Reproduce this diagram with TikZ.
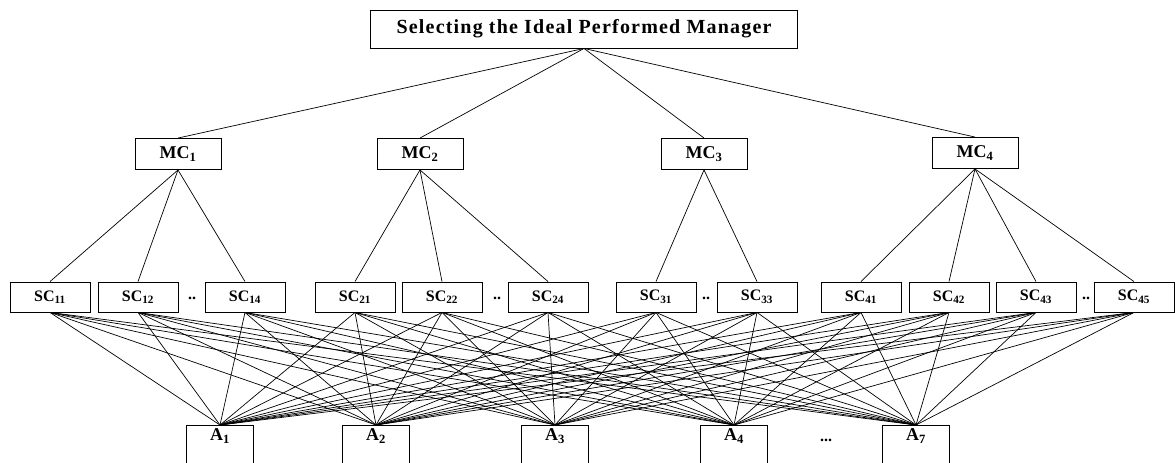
\documentclass[tikz,border=0pt]{standalone}
\usepackage{fontspec}
\setmainfont{Liberation Serif}
\usetikzlibrary{positioning}
\tikzset{%
    % Specifications for style of nodes:
    base/.style = {
        rectangle, draw=black, line width=0.9pt,
        fill=white, inner sep=0pt, align=center
    },
    goal/.style = {base, minimum width=427pt, minimum height=38pt,
        font=\fontsize{20}{22}\selectfont\bfseries\addfontfeature{LetterSpace=6}},
    main/.style = {base, minimum width=86pt, minimum height=31pt,
        font=\fontsize{18}{20}\selectfont\bfseries},
    sub/.style = {base, minimum width=80pt, minimum height=30pt,
        font=\fontsize{16}{18}\selectfont\bfseries},
    alt/.style = {base, minimum width=67pt, text height=13pt, text depth=32pt,
        inner ysep=2pt, font=\fontsize{18}{20}\selectfont\bfseries},
    gap/.style = {font=\fontsize{16}{18}\selectfont\bfseries},
    link/.style = {line width=0.7pt}
}

\begin{document}
\begin{tikzpicture}[x=1pt, y=-1pt]
\clip (0,0) rectangle (1175,463);
% Specification of nodes (position, etc.)
\node (goal)  [goal] at (584,29) {Selecting the Ideal Performed Manager};
\node (mc1)   [main] at (178,154) {MC\textsubscript{1}};
\node (mc2)   [main] at (420,154) {MC\textsubscript{2}};
\node (mc3)   [main] at (704,154) {MC\textsubscript{3}};
\node (mc4)   [main] at (975,153) {MC\textsubscript{4}};
\node (sc11)  [sub] at (50,297) {SC\textsubscript{11}};
\node (sc12)  [sub] at (138,297) {SC\textsubscript{12}};
\node (sc14)  [sub] at (245,297) {SC\textsubscript{14}};
\node (sc21)  [sub] at (355,297) {SC\textsubscript{21}};
\node (sc22)  [sub] at (442,297) {SC\textsubscript{22}};
\node (sc24)  [sub] at (548,297) {SC\textsubscript{24}};
\node (sc31)  [sub] at (656,297) {SC\textsubscript{31}};
\node (sc33)  [sub] at (757,297) {SC\textsubscript{33}};
\node (sc41)  [sub] at (861,297) {SC\textsubscript{41}};
\node (sc42)  [sub] at (949,297) {SC\textsubscript{42}};
\node (sc43)  [sub] at (1036,297) {SC\textsubscript{43}};
\node (sc45)  [sub] at (1134,297) {SC\textsubscript{45}};
\node (d1)    [gap] at (192,298) {..};
\node (d2)    [gap] at (497,298) {..};
\node (d3)    [gap] at (706,298) {..};
\node (d4)    [gap] at (1086,298) {..};
\node (a1)    [alt, anchor=north] at (220,425) {A\textsubscript{1}};
\node (a2)    [alt, anchor=north] at (376,425) {A\textsubscript{2}};
\node (a3)    [alt, anchor=north] at (555,425) {A\textsubscript{3}};
\node (a4)    [alt, anchor=north] at (734,425) {A\textsubscript{4}};
\node (a7)    [alt, anchor=north] at (916,425) {A\textsubscript{7}};
\node (d5)    [gap] at (826,440) {...};
% Specification of paths
\draw[link] (goal.south) -- (mc1.north);
\draw[link] (goal.south) -- (mc2.north);
\draw[link] (goal.south) -- (mc3.north);
\draw[link] (goal.south) -- (mc4.north);
\draw[link] (mc1.south) -- (sc11.north);
\draw[link] (mc1.south) -- (sc12.north);
\draw[link] (mc1.south) -- (sc14.north);
\draw[link] (mc2.south) -- (sc21.north);
\draw[link] (mc2.south) -- (sc22.north);
\draw[link] (mc2.south) -- (sc24.north);
\draw[link] (mc3.south) -- (sc31.north);
\draw[link] (mc3.south) -- (sc33.north);
\draw[link] (mc4.south) -- (sc41.north);
\draw[link] (mc4.south) -- (sc42.north);
\draw[link] (mc4.south) -- (sc43.north);
\draw[link] (mc4.south) -- (sc45.north);
\foreach \s in {sc11,sc12,sc14,sc21,sc22,sc24,sc31,sc33,sc41,sc42,sc43,sc45}
    \foreach \a in {a1,a2,a3,a4,a7}
        \draw[link] (\s.south) -- (\a.north);
\end{tikzpicture}
\end{document}
